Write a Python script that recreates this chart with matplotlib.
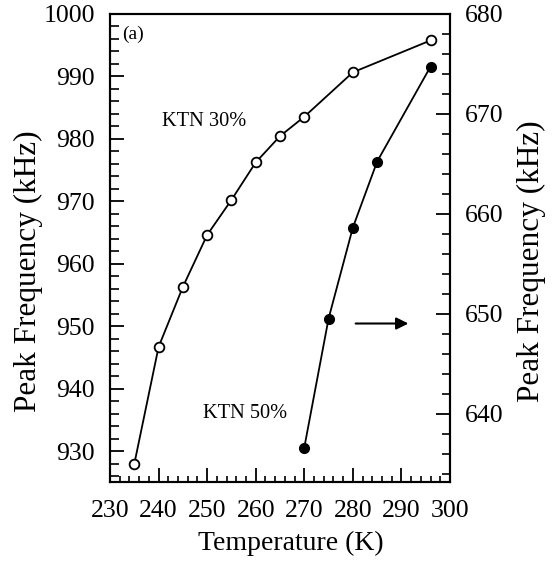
import matplotlib
matplotlib.use('Agg')
from matplotlib import pyplot as plt
from matplotlib.ticker import MultipleLocator

# KTN 30% (left axis)
temp_30 = [235, 240, 245, 250, 255, 260, 265, 270, 280, 296]
freq_30 = [928.0, 946.7, 956.3, 964.6, 970.2, 976.2, 980.4, 983.5, 990.6, 995.7]

# KTN 50% (right axis)
temp_50 = [270, 275, 280, 285, 296]
freq_50 = [636.6, 649.5, 658.6, 665.2, 674.7]

plt.rcParams['font.family'] = ['Liberation Serif', 'DejaVu Serif']

fig = plt.figure(figsize=(5.54, 5.68), dpi=100)
ax = fig.add_axes([0.1986, 0.1514, 0.6137, 0.8248])
ax2 = ax.twinx()

ax.plot(temp_30, freq_30, '-o', color='black', lw=1.3, ms=7,
        mfc='white', mec='black', mew=1.3, zorder=3)
ax2.plot(temp_50, freq_50, '-o', color='black', lw=1.3, ms=7,
         mfc='black', mec='black', zorder=3)

ax.set_xlim(230, 300)
ax.set_ylim(925.1, 1000)
ax2.set_ylim(633.15, 680)

ax.xaxis.set_major_locator(MultipleLocator(10))
ax.xaxis.set_minor_locator(MultipleLocator(2))
ax.yaxis.set_major_locator(MultipleLocator(10))
ax.yaxis.set_minor_locator(MultipleLocator(2))
ax2.yaxis.set_major_locator(MultipleLocator(10))
ax2.yaxis.set_minor_locator(MultipleLocator(2))

for a in (ax, ax2):
    for s in a.spines.values():
        s.set_linewidth(1.5)

ax.tick_params(axis='both', which='major', direction='in', length=10, width=1.3,
               labelsize=18.5, top=False, right=False)
ax.tick_params(axis='y', which='minor', direction='in', length=6.5, width=1.2,
               right=False)
ax.tick_params(axis='x', which='minor', direction='in', length=4, width=1.2,
               top=False)
ax.tick_params(axis='y', pad=11)
ax.tick_params(axis='x', pad=13)
ax2.tick_params(axis='y', which='major', direction='in', length=10, width=1.3,
                labelsize=18.5, pad=11)
ax2.tick_params(axis='y', which='minor', direction='in', length=6, width=1.2)

# axis titles placed where the reference has them
fig.text(0.5253, 0.0440, 'Temperature (K)', fontsize=20, ha='center', va='center')
fig.text(0.0514, 0.5229, 'Peak Frequency (kHz)', fontsize=22.5, rotation=90,
         ha='center', va='center')
fig.text(0.9585, 0.5405, 'Peak Frequency (kHz)', fontsize=22.5, rotation=90,
         ha='center', va='center')

ax.text(0.037, 0.955, '(a)', transform=ax.transAxes, fontsize=14,
        ha='left', va='center')
ax.text(240.6, 982.7, 'KTN 30%', fontsize=14.7, ha='left', va='center')
ax.text(249.1, 936.1, 'KTN 50%', fontsize=14.7, ha='left', va='center')

ax2.annotate('', xy=(292, 649), xytext=(280, 649),
             arrowprops=dict(arrowstyle='-|>', color='black', lw=1.5,
                             mutation_scale=18))

plt.savefig('out.png', dpi=100)
